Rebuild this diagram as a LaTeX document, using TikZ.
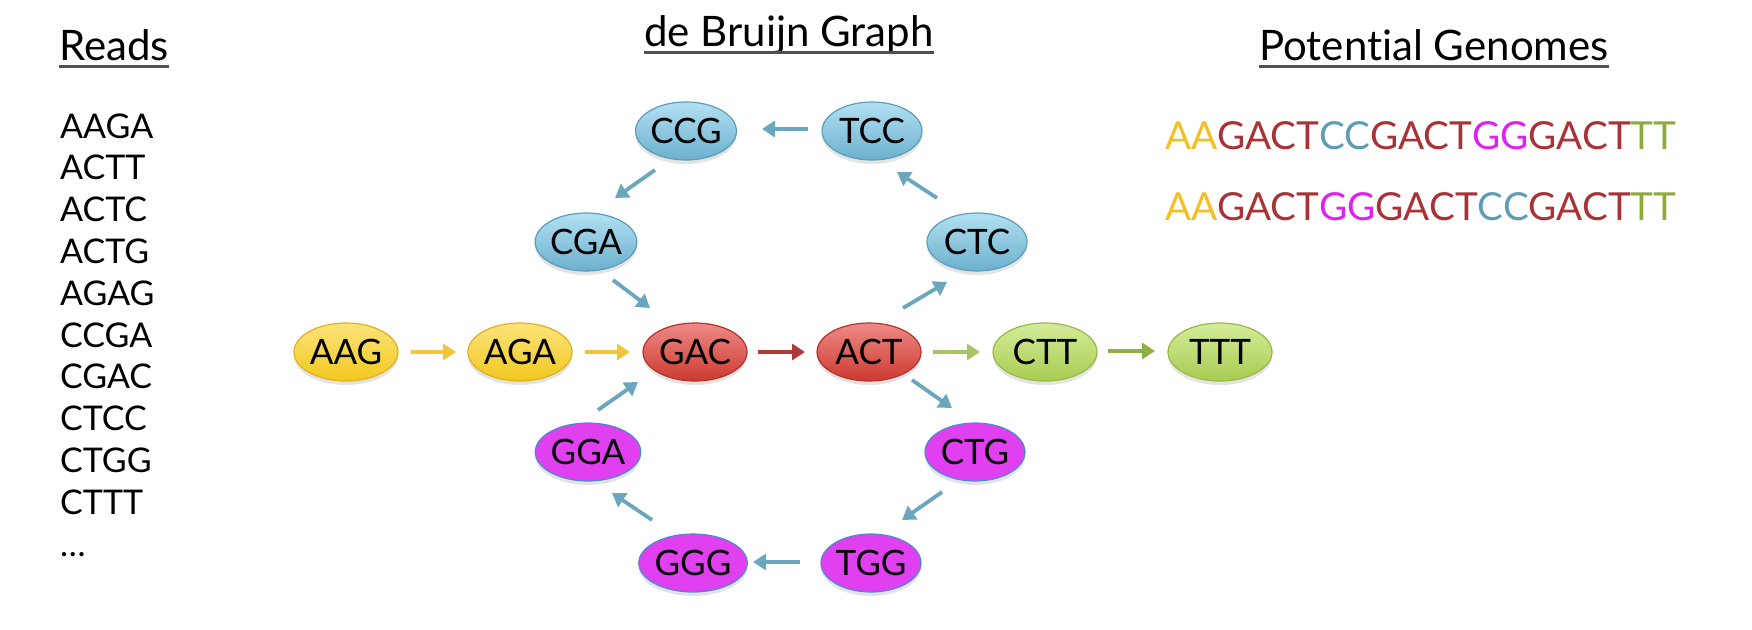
\documentclass[tikz,border=0pt]{standalone}
\usepackage{fontspec}
\setmainfont{Lato}[Ligatures=NoCommon]
\usetikzlibrary{shapes.geometric,arrows.meta,shadows}
\definecolor{ylA}{HTML}{FBE37A}
\definecolor{ylB}{HTML}{F2C81E}
\definecolor{ylD}{HTML}{E0B020}
\definecolor{rdA}{HTML}{EE8A86}
\definecolor{rdB}{HTML}{CC3A30}
\definecolor{rdD}{HTML}{B83028}
\definecolor{blA}{HTML}{B2E0F2}
\definecolor{blB}{HTML}{6CB0CE}
\definecolor{blD}{HTML}{5A9EBC}
\definecolor{gnA}{HTML}{D4EC9A}
\definecolor{gnB}{HTML}{A8CC50}
\definecolor{gnD}{HTML}{98B848}
\definecolor{mgF}{HTML}{E040F0}
\definecolor{mgD}{HTML}{4A8CC8}
\definecolor{arY}{HTML}{F2C43A}
\definecolor{arR}{HTML}{B03A38}
\definecolor{arB}{HTML}{6AA6BE}
\definecolor{arG}{HTML}{A8C464}
\definecolor{arG2}{HTML}{8DB040}
\definecolor{txY}{HTML}{F2C024}
\definecolor{txR}{HTML}{A83236}
\definecolor{txB}{HTML}{5E9CB4}
\definecolor{txM}{HTML}{E020F0}
\definecolor{txG}{HTML}{8EAA3C}
\definecolor{ulgray}{HTML}{505050}
\tikzset{
  kmer/.style={ellipse, minimum width=104pt, minimum height=58pt, inner sep=0pt,
    font=\fontsize{35}{35}\selectfont, text=black, line width=1.2pt,
    drop shadow={shadow xshift=0pt, shadow yshift=-4pt, opacity=0.22}},
  ynode/.style={kmer, top color=ylA, bottom color=ylB, draw=ylD},
  rnode/.style={kmer, top color=rdA, bottom color=rdB, draw=rdD},
  bnode/.style={kmer, minimum width=100pt, top color=blA, bottom color=blB, draw=blD},
  gnode/.style={kmer, top color=gnA, bottom color=gnB, draw=gnD},
  mnode/.style={kmer, minimum width=100pt, fill=mgF, draw=mgD},
  arr/.style={line width=3.8pt, -{Triangle[length=13pt,width=16pt]}},
  title/.style={font=\fontsize{42}{42}\selectfont, inner sep=0pt, anchor=base},
  ul/.style={line width=3pt, ulgray},
  read/.style={font=\fontsize{34}{34}\selectfont, inner sep=0pt, anchor=base west},
  genome/.style={font=\fontsize{38.6}{38.6}\selectfont, inner sep=0pt, anchor=west}
}
\begin{document}
\begin{tikzpicture}[x=1pt,y=-1pt]
\useasboundingbox (0,0) rectangle (1752,629);
% titles
\node[title] (tr) at (114,60) {Reads};
\node[title] (tg) at (789,46) {de Bruijn Graph};
\node[title] (tp) at (1434,60) {Potential Genomes};
\foreach \t in {tr,tg,tp}{
  \draw[ul] ([yshift=-6pt]\t.base west) -- ([yshift=-6pt]\t.base east);
}
% reads
\foreach \s [count=\i] in {AAGA,ACTT,ACTC,ACTG,AGAG,CCGA,CGAC,CTCC,CTGG,CTTT,\dots}{
  \node[read] (r\i) at (60,{138+41.8*(\i-1)}) {\s};
}
% genomes
\node[genome] (g1) at (1165,136) {\textcolor{txY}{AA}\textcolor{txR}{GACT}\textcolor{txB}{CC}\textcolor{txR}{GACT}\textcolor{txM}{GG}\textcolor{txR}{GACT}\textcolor{txG}{TT}};
\node[genome] (g2) at (1165,207) {\textcolor{txY}{AA}\textcolor{txR}{GACT}\textcolor{txM}{GG}\textcolor{txR}{GACT}\textcolor{txB}{CC}\textcolor{txR}{GACT}\textcolor{txG}{TT}};
% nodes
\node[bnode] (CCG) at (686,131) {CCG};
\node[bnode] (TCC) at (872,131) {TCC};
\node[bnode] (CGA) at (586,242) {CGA};
\node[bnode] (CTC) at (977,242) {CTC};
\node[ynode] (AAG) at (346,352) {AAG};
\node[ynode] (AGA) at (520,352) {AGA};
\node[rnode] (GAC) at (695,352) {GAC};
\node[rnode] (ACT) at (869,352) {ACT};
\node[gnode] (CTT) at (1045,352) {CTT};
\node[gnode] (TTT) at (1220,352) {TTT};
\node[mnode] (GGA) at (588,452) {GGA};
\node[mnode] (CTG) at (975,452) {CTG};
\node[mnode] (GGG) at (693,563) {GGG};
\node[mnode] (TGG) at (871,563) {TGG};
% edges
\draw[arr, arY]  ([shift={(65,0)}]AAG.center) -- ([shift={(-64,0)}]AGA.center);
\draw[arr, arY]  ([shift={(65,0)}]AGA.center) -- ([shift={(-65,0)}]GAC.center);
\draw[arr, arR]  ([shift={(63,0)}]GAC.center) -- ([shift={(-64,0)}]ACT.center);
\draw[arr, arG]  ([shift={(64,0)}]ACT.center) -- ([shift={(-65,0)}]CTT.center);
\draw[arr, arG2] ([shift={(63,-1)}]CTT.center) -- ([shift={(-65,-1)}]TTT.center);
\draw[arr, arB] ([shift={(-64,-2)}]TCC.center) -- ([shift={(76,-2)}]CCG.center);
\draw[arr, arB] ([shift={(-31,39)}]CCG.center) -- ([shift={(29,-44)}]CGA.center);
\draw[arr, arB] ([shift={(-40,-44)}]CTC.center) -- ([shift={(25,41)}]TCC.center);
\draw[arr, arB] ([shift={(27,38)}]CGA.center) -- ([shift={(-45,-44)}]GAC.center);
\draw[arr, arB] ([shift={(34,-44)}]ACT.center) -- ([shift={(-30,40)}]CTC.center);
\draw[arr, arB] ([shift={(10,-42)}]GGA.center) -- ([shift={(-57,30)}]GAC.center);
\draw[arr, arB] ([shift={(43,28)}]ACT.center) -- ([shift={(-23,-44)}]CTG.center);
\draw[arr, arB] ([shift={(-33,40)}]CTG.center) -- ([shift={(31,-43)}]TGG.center);
\draw[arr, arB] ([shift={(-71,-1)}]TGG.center) -- ([shift={(60,-1)}]GGG.center);
\draw[arr, arB] ([shift={(-41,-43)}]GGG.center) -- ([shift={(24,41)}]GGA.center);
\end{tikzpicture}
\end{document}
